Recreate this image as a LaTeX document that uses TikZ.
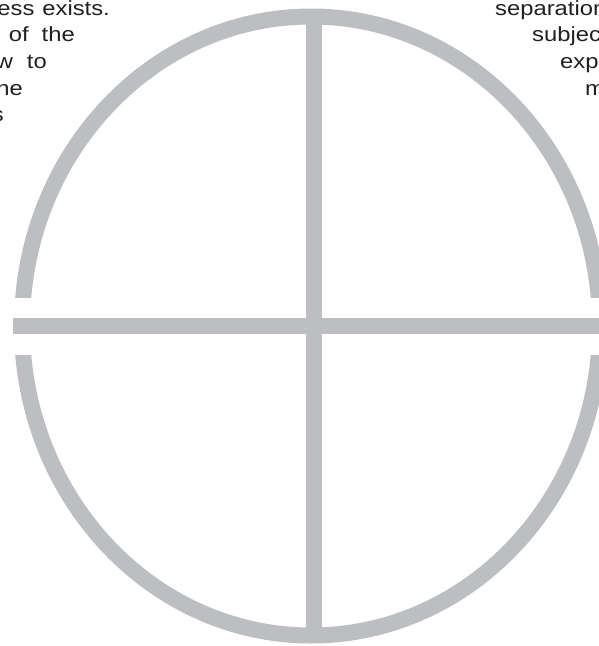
\documentclass[tikz,border=0pt]{standalone}
\usepackage{fontspec}
\setmainfont[FakeStretch=1.16]{Liberation Sans}
\usetikzlibrary{positioning}
\definecolor{crossgray}{RGB}{189,190,193}
\definecolor{inkgray}{RGB}{35,31,32}
\tikzset{
ring/.style={
    draw=crossgray,
    line width=16pt
},
bar/.style={
    draw=crossgray,
    line width=16pt
},
gap/.style={
    draw=white,
    line width=57pt
},
prose/.style={
    inner sep=0pt,
    text=inkgray,
    font=\fontsize{20.5}{26}\selectfont
}
}

\begin{document}
\begin{tikzpicture}[x=1pt, y=-1pt]
\useasboundingbox (0,0) rectangle (599,646);
\clip (0,0) rectangle (599,646);

% RING
\coordinate (hub) at (311,326);
\draw[ring] (hub) ellipse [x radius=289, y radius=309.5];

% CROSS
\coordinate (west) at (13,326);
\coordinate (east) at (599,326);
\coordinate (north) at (314,18);
\coordinate (south) at (314,634);
\draw[gap] (0,326) -- (east);
\draw[bar] (north) -- (south);
\draw[bar] (west) -- (east);

% LEFT TEXT
\node[prose, anchor=base east] (ness) at (110,15.7) {ness\hspace{8pt}exists.};
\node[prose, anchor=base east] (ofthe) at (75,41.7) {of\hspace{13pt}the};
\node[prose, anchor=base east] (wto) at (47,68) {w\hspace{14pt}to};
\node[prose, anchor=base east] (he) at (23,95.5) {he};
\node[prose, anchor=base east] (s) at (4,121.5) {s};

% RIGHT TEXT
\node[prose, anchor=base west] (separation) at (495,15.3) {separation};
\node[prose, anchor=base west] (subjec) at (532,41.7) {subjec};
\node[prose, anchor=base west] (expe) at (560,68) {expe};
\node[prose, anchor=base west] (m) at (585,95) {m};

\end{tikzpicture}
\end{document}
